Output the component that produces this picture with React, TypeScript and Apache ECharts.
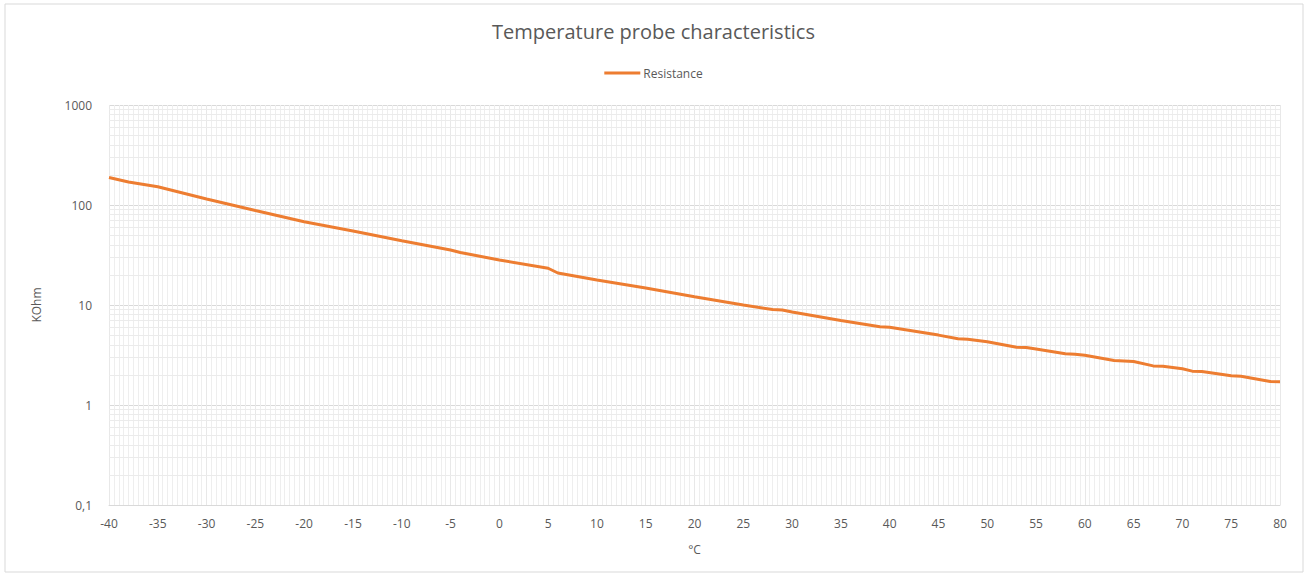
import React, { useEffect, useRef } from "react";
import * as echarts from "echarts";

const titleText = "Temperature probe characteristics";
const seriesName = "Resistance";
const xName = "°C";
const yName = "KOhm";

// temperature (°C) read at sample points
const temps = [-40, -38, -35, -30, -25, -20, -15, -10, -5, -4, 0, 5, 6, 10, 15, 20, 25, 28, 29, 30, 35, 39, 40, 45, 47, 48, 50, 53, 54, 55, 58, 59, 60, 63, 64, 65, 67, 68, 70, 71, 72, 75, 76, 79, 80];
// resistance (kOhm)
const resistance = [188, 170, 152, 115, 88, 68, 55, 44, 35.5, 33.5, 28.2, 23.3, 20.9, 17.8, 14.8, 12.1, 10.0, 9.0, 8.9, 8.5, 7.0, 6.06, 6.0, 5.0, 4.6, 4.55, 4.3, 3.78, 3.76, 3.63, 3.25, 3.22, 3.14, 2.78, 2.76, 2.72, 2.46, 2.44, 2.3, 2.18, 2.16, 1.96, 1.94, 1.72, 1.71];

// minor log gridline values
const minorLogValues: number[] = [];
[0.1, 1, 10, 100].forEach((d) => {
  for (let k = 2; k <= 9; k++) minorLogValues.push(+(d * k).toPrecision(3));
});

export default function App() {
  const ref = useRef<HTMLDivElement>(null);
  useEffect(() => {
    document.body.style.margin = "0";
    const chart = echarts.init(ref.current!, undefined, { renderer: "svg" });
    const font = "'Open Sans', sans-serif";
    chart.setOption({
      animation: false,
      backgroundColor: "#ffffff",
      textStyle: { fontFamily: font },
      title: {
        text: titleText,
        left: "center",
        top: 16,
        textStyle: { fontFamily: font, fontSize: 20, fontWeight: "normal", color: "#595959" },
      },
      legend: {
        top: 62,
        left: "center",
        itemWidth: 36,
        itemHeight: 3,
        itemGap: 4,
        icon: "rect",
        textStyle: { fontFamily: font, fontSize: 12, color: "#595959", padding: [0, 0, 0, -2] },
        data: [seriesName],
      },
      graphic: [
        {
          type: "rect",
          shape: { x: 5, y: 4, width: 1298, height: 568 },
          style: { fill: "none", stroke: "#d9d9d9", lineWidth: 1 },
          silent: true,
          z: -10,
        },
      ],
      grid: { left: 109, right: 27, top: 105, bottom: 72 },
      xAxis: {
        type: "value",
        min: -40,
        max: 80,
        interval: 5,
        name: xName,
        nameLocation: "middle",
        nameGap: 38,
        nameTextStyle: { fontFamily: font, fontSize: 12, color: "#595959" },
        axisLine: { show: true, lineStyle: { color: "#d9d9d9", width: 1 } },
        axisTick: { show: false },
        axisLabel: { fontFamily: font, fontSize: 12, color: "#595959", margin: 12 },
        splitLine: { show: true, lineStyle: { color: "#e8e8e8", width: 1 } },
        minorTick: { show: false, splitNumber: 10 },
        minorSplitLine: { show: true, lineStyle: { color: "#eeeeee", width: 1 } },
      },
      yAxis: {
        type: "log",
        logBase: 10,
        min: 0.1,
        max: 1000,
        name: yName,
        nameLocation: "middle",
        nameGap: 67,
        nameRotate: 90,
        nameTextStyle: { fontFamily: font, fontSize: 12, color: "#595959" },
        axisLine: { show: false },
        axisTick: { show: false },
        axisLabel: {
          fontFamily: font,
          fontSize: 12,
          color: "#595959",
          margin: 17,
          formatter: (v: number) =>
            v < 1 ? v.toFixed(1).replace(".", ",") : String(Math.round(v)),
        },
        splitLine: { show: true, lineStyle: { color: "#d9d9d9", width: 1 } },
      },
      series: [
        {
          name: "_minor",
          type: "line",
          data: [],
          z: 1,
          silent: true,
          markLine: {
            silent: true,
            symbol: "none",
            label: { show: false },
            animation: false,
            lineStyle: { color: "#ebebeb", width: 1, type: "solid" },
            data: minorLogValues.map((v) => ({ yAxis: v })),
          },
        },
        {
          name: seriesName,
          type: "line",
          z: 5,
          showSymbol: false,
          symbol: "none",
          lineStyle: { color: "#ED7D31", width: 3 },
          itemStyle: { color: "#ED7D31" },
          data: temps.map((t, i) => [t, resistance[i]]),
        },
      ],
    });
    return () => chart.dispose();
  }, []);
  return <div ref={ref} style={{ width: 1307, height: 577 }} />;
}
